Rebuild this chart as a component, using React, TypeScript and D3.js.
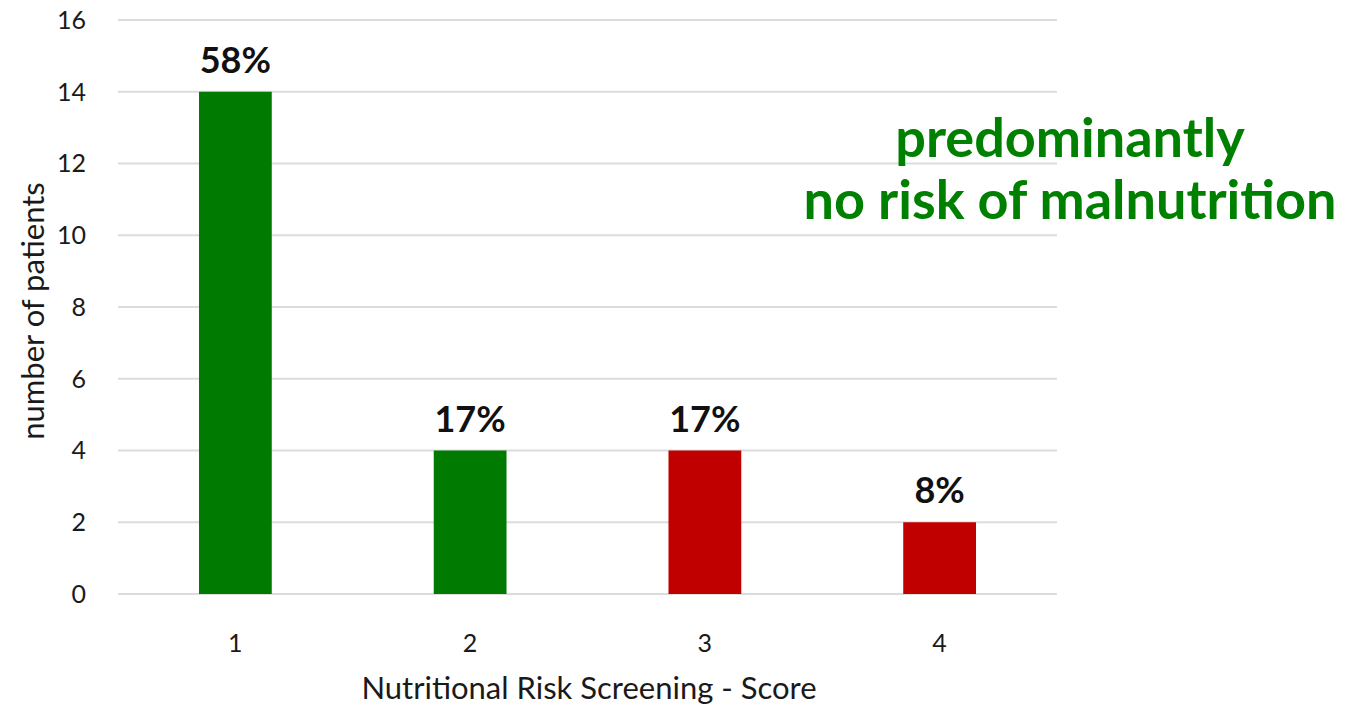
import React from "react";
import * as d3 from "d3";

const scores = ["1", "2", "3", "4"];
const patients = [14, 4, 4, 2];
const shares = ["58%", "17%", "17%", "8%"];
const barColors = ["#007a00", "#007a00", "#c00000", "#c00000"];
const yTicks = [0, 2, 4, 6, 8, 10, 12, 14, 16];
const noteLines = ["predominantly", "no risk of malnutrition"];

const W = 1347;
const H = 706;
const left = 118;
const right = 1057;
const top = 20;
const bottom = 594;
const font = "Lato, 'Open Sans', sans-serif";

export default function App() {
  const x = d3
    .scaleBand<string>()
    .domain(scores)
    .range([left, right])
    .paddingInner(0.69)
    .paddingOuter(0.345);
  const y = d3.scaleLinear().domain([0, 16]).range([bottom, top]);

  return (
    <svg
      width={W}
      height={H}
      style={{ position: "absolute", left: 0, top: 0, background: "#fff" }}
    >
      {yTicks.map((t) => (
        <g key={t}>
          <line
            x1={left}
            x2={right}
            y1={y(t)}
            y2={y(t)}
            stroke="#dcdcdc"
            strokeWidth={2}
          />
          <text
            x={86}
            y={y(t)}
            dy="0.35em"
            textAnchor="end"
            fontFamily={font}
            fontSize={25}
            fill="#1a1a1a"
          >
            {t}
          </text>
        </g>
      ))}
      {scores.map((s, i) => (
        <g key={s}>
          <rect
            x={x(s)}
            y={y(patients[i])}
            width={x.bandwidth()}
            height={y(0) - y(patients[i])}
            fill={barColors[i]}
          />
          <text
            x={(x(s) ?? 0) + x.bandwidth() / 2}
            y={y(patients[i]) - 19}
            textAnchor="middle"
            fontFamily={font}
            fontWeight={700}
            fontSize={36}
            fill="#111"
          >
            {shares[i]}
          </text>
          <text
            x={(x(s) ?? 0) + x.bandwidth() / 2}
            y={643}
            dy="0.35em"
            textAnchor="middle"
            fontFamily={font}
            fontSize={25}
            fill="#1a1a1a"
          >
            {s}
          </text>
        </g>
      ))}
      <text
        x={589}
        y={688}
        dy="0.35em"
        textAnchor="middle"
        fontFamily={font}
        fontSize={31}
        fill="#1a1a1a"
      >
        Nutritional Risk Screening - Score
      </text>
      <text
        transform={`translate(33, ${(top + bottom) / 2 + 4}) rotate(-90)`}
        dy="0.35em"
        textAnchor="middle"
        fontFamily={font}
        fontSize={31}
        fill="#1a1a1a"
      >
        number of patients
      </text>
      {noteLines.map((line, i) => (
        <text
          key={line}
          x={1070}
          y={157 + i * 62}
          textAnchor="middle"
          fontFamily={font}
          fontWeight={700}
          fontSize={54}
          fill="#008000"
        >
          {line}
        </text>
      ))}
    </svg>
  );
}
